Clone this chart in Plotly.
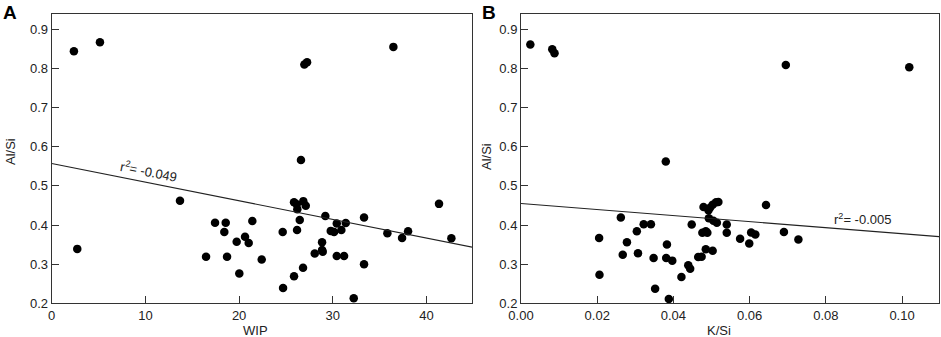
import plotly.graph_objects as go

# Panel A: WIP vs Al/Si
wip = [2.37, 5.15, 36.46, 26.96, 27.25, 26.6, 2.73, 13.69, 17.43, 18.57, 18.42, 16.47, 18.71,
       19.74, 20.02, 20.63, 21.02, 21.41, 22.41, 24.65, 24.69, 25.86, 26.15, 26.21, 26.85,
       27.11, 26.47, 26.18, 25.86, 26.82, 29.2, 28.85, 28.85, 28.92, 28.07, 29.78, 30.13,
       30.42, 30.91, 31.38, 30.42, 31.2, 32.23, 33.33, 33.33, 35.82, 37.39, 38.03, 41.33, 42.65]
alsi_a = [0.844, 0.867, 0.855, 0.810, 0.816, 0.566, 0.339, 0.462, 0.406, 0.406, 0.382, 0.319, 0.319,
          0.357, 0.276, 0.370, 0.354, 0.410, 0.312, 0.382, 0.239, 0.458, 0.453, 0.440, 0.461,
          0.449, 0.413, 0.387, 0.269, 0.291, 0.423, 0.356, 0.336, 0.332, 0.327, 0.385, 0.382,
          0.404, 0.387, 0.405, 0.321, 0.321, 0.213, 0.419, 0.300, 0.379, 0.367, 0.384, 0.454, 0.366]

# Panel B: K/Si vs Al/Si
ksi = [0.00245, 0.0082, 0.0088, 0.038, 0.0695, 0.1019, 0.0205, 0.0206, 0.0262, 0.0267, 0.0278,
       0.0304, 0.0307, 0.0322, 0.0341, 0.0348, 0.0352, 0.0383, 0.0381, 0.0388, 0.0397, 0.0421,
       0.0439, 0.0444, 0.0448, 0.0465, 0.0474, 0.0476, 0.0479, 0.0485, 0.0485, 0.0489, 0.0492,
       0.0493, 0.0503, 0.0496, 0.0503, 0.0512, 0.0518, 0.0505, 0.0514, 0.054, 0.054, 0.0575,
       0.0599, 0.0604, 0.0615, 0.0643, 0.069, 0.0728]
alsi_b = [0.861, 0.849, 0.839, 0.562, 0.809, 0.803, 0.367, 0.273, 0.419, 0.324, 0.356,
          0.384, 0.328, 0.402, 0.402, 0.316, 0.237, 0.350, 0.316, 0.211, 0.309, 0.267,
          0.297, 0.288, 0.401, 0.318, 0.319, 0.380, 0.446, 0.384, 0.338, 0.380, 0.438,
          0.417, 0.334, 0.444, 0.452, 0.458, 0.459, 0.411, 0.406, 0.401, 0.380, 0.365,
          0.353, 0.381, 0.376, 0.451, 0.382, 0.363]

# Regression lines (intercept, slope) and their x extents
fit_a = (0.557, -0.00476)
fit_b = (0.455, -0.773)
xr_a = [0, 45]
xr_b = [0, 0.11]
r2_a = "-0.049"
r2_b = "-0.005"

y_ticks = [0.2, 0.3, 0.4, 0.5, 0.6, 0.7, 0.8, 0.9]
xa_ticks = [0, 10, 20, 30, 40]
xb_ticks = [0.00, 0.02, 0.04, 0.06, 0.08, 0.10]

W, H = 941, 337
fig = go.Figure()
mk = dict(color="black", size=8.5)
fig.add_trace(go.Scatter(x=wip, y=alsi_a, mode="markers", marker=mk, xaxis="x", yaxis="y"))
fig.add_trace(go.Scatter(x=xr_a, y=[fit_a[0] + fit_a[1] * v for v in xr_a], mode="lines",
                         line=dict(color="#222", width=1.1), xaxis="x", yaxis="y"))
fig.add_trace(go.Scatter(x=ksi, y=alsi_b, mode="markers", marker=mk, xaxis="x2", yaxis="y2"))
fig.add_trace(go.Scatter(x=xr_b, y=[fit_b[0] + fit_b[1] * v for v in xr_b], mode="lines",
                         line=dict(color="#222", width=1.1), xaxis="x2", yaxis="y2"))

FAM = "Liberation Sans, Arial, sans-serif"
font = dict(family=FAM, size=13, color="#222")
ax_common = dict(showgrid=False, zeroline=False, showline=True, linecolor="#333", linewidth=1,
                 mirror=True, ticks="inside", ticklen=7, tickcolor="#333", tickfont=font,
                 automargin=False)
ydom = [(H - 303.3) / H, (H - 14) / H]
fig.update_layout(
    width=W, height=H, margin=dict(l=0, r=0, t=0, b=0, autoexpand=False),
    paper_bgcolor="white", plot_bgcolor="white", showlegend=False, font=font,
    xaxis=dict(domain=[51.7 / W, 472 / W], range=[0, 44.85], tickvals=xa_ticks, anchor="y", **ax_common),
    yaxis=dict(domain=ydom, range=[0.2, 0.939], tickvals=y_ticks, tickformat=".1f", anchor="x", **ax_common),
    xaxis2=dict(domain=[521 / W, 939 / W], range=[0, 0.1097], tickvals=xb_ticks, tickformat=".2f",
                anchor="y2", **ax_common),
    yaxis2=dict(domain=ydom, range=[0.2, 0.939], tickvals=y_ticks, tickformat=".1f", anchor="x2", **ax_common),
)

def pa(px, py, text, **kw):
    d = dict(x=px / W, y=1 - py / H, xref="paper", yref="paper", text=text, showarrow=False,
             xanchor="center", yanchor="middle", font=font)
    d.update(kw)
    return d

anns = [
    dict(x=10.33, y=0.537, xref="x", yref="y", text="r<sup>2</sup>= " + r2_a, textangle=11.3,
         showarrow=False, font=font, xanchor="center", yanchor="middle"),
    dict(x=0.0895, y=0.415, xref="x2", yref="y2", text="r<sup>2</sup>= " + r2_b,
         showarrow=False, font=font, xanchor="center", yanchor="middle"),
    pa(9.5, 12, "<b>A</b>", font=dict(family=FAM, size=19, color="black")),
    pa(489.5, 12, "<b>B</b>", font=dict(family=FAM, size=19, color="black")),
    pa(256, 330, "WIP"),
    pa(719, 330, "K/Si"),
    pa(10, 152, "Al/Si", textangle=-90),
    pa(486, 157, "Al/Si", textangle=-90),
]
fig.update_layout(annotations=anns)
fig.write_html("out.html", config={"displayModeBar": False},
               post_script="document.body.style.margin='0';document.body.style.overflow='hidden';")
